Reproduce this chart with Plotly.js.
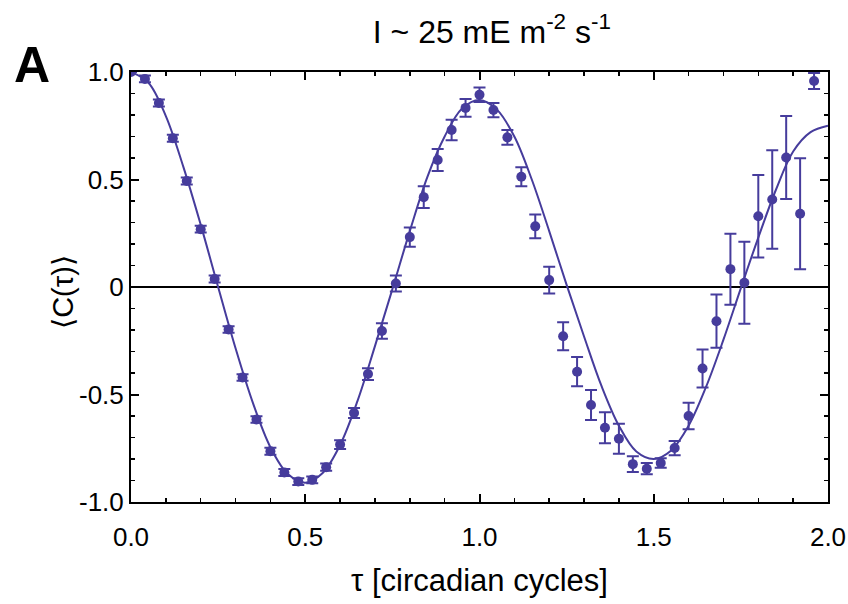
<!DOCTYPE html>
<html>
<head>
<meta charset="utf-8">
<script src="https://cdn.plot.ly/plotly-3.0.1.min.js"></script>
<style>
  html, body { margin: 0; padding: 0; background: #fff; }
  #chart { width: 848px; height: 604px; }
</style>
</head>
<body>
<div id="chart"></div>
<script>
// Measured autocorrelation <C(tau)> with error bars
const tau = [0.00, 0.04, 0.08, 0.12, 0.16, 0.20, 0.24, 0.28, 0.32, 0.36, 0.40,
             0.44, 0.48, 0.52, 0.56, 0.60, 0.64, 0.68, 0.72, 0.76, 0.80,
             0.84, 0.88, 0.92, 0.96, 1.00, 1.04, 1.08, 1.12, 1.16, 1.20,
             1.24, 1.28, 1.32, 1.36, 1.40, 1.44, 1.48, 1.52, 1.56, 1.60,
             1.64, 1.68, 1.72, 1.76, 1.80, 1.84, 1.88, 1.92, 1.96];
const corr = [1.000, 0.968, 0.856, 0.692, 0.493, 0.269, 0.037, -0.198, -0.421, -0.616, -0.764,
              -0.863, -0.905, -0.897, -0.838, -0.733, -0.586, -0.405, -0.205, 0.016, 0.232,
              0.418, 0.591, 0.730, 0.833, 0.894, 0.823, 0.696, 0.513, 0.282, 0.032,
              -0.229, -0.394, -0.549, -0.655, -0.706, -0.824, -0.845, -0.819, -0.749, -0.600,
              -0.379, -0.159, 0.083, 0.020, 0.329, 0.407, 0.602, 0.341, 0.958];
const corrErr = [0.000, 0.016, 0.016, 0.016, 0.016, 0.016, 0.016, 0.015, 0.015, 0.015, 0.016,
                 0.016, 0.016, 0.016, 0.017, 0.020, 0.023, 0.027, 0.036, 0.037, 0.045,
                 0.051, 0.051, 0.048, 0.041, 0.034, 0.033, 0.034, 0.044, 0.055, 0.062,
                 0.065, 0.068, 0.070, 0.072, 0.070, 0.037, 0.026, 0.022, 0.033, 0.062,
                 0.088, 0.124, 0.165, 0.191, 0.192, 0.229, 0.193, 0.258, 0.037];

// Fitted curve, sampled
const fitTau = [0.00, 0.05, 0.10, 0.15, 0.20, 0.25, 0.30, 0.35, 0.40, 0.45, 0.50,
                0.55, 0.60, 0.65, 0.70, 0.75, 0.80, 0.85, 0.90, 0.95, 1.00,
                1.05, 1.10, 1.15, 1.20, 1.25, 1.30, 1.35, 1.40, 1.45, 1.50,
                1.55, 1.60, 1.65, 1.70, 1.75, 1.80, 1.85, 1.90, 1.95, 2.00];
const fitCorr = [1.000, 0.950, 0.795, 0.560, 0.290, 0.000, -0.285, -0.540, -0.745, -0.870, -0.910,
                 -0.865, -0.735, -0.530, -0.275, -0.010, 0.260, 0.510, 0.700, 0.830, 0.870,
                 0.825, 0.700, 0.500, 0.260, 0.010, -0.230, -0.460, -0.645, -0.765, -0.800,
                 -0.760, -0.645, -0.465, -0.245, -0.005, 0.230, 0.450, 0.630, 0.720, 0.750];

const xTickVals = [0, 0.5, 1.0, 1.5, 2.0];
const xTickText = ['0.0', '0.5', '1.0', '1.5', '2.0'];
const yTickVals = [-1.0, -0.5, 0, 0.5, 1.0];
const yTickText = ['-1.0', '-0.5', '0', '0.5', '1.0'];

const ink = '#463c9c';
const font = 'Liberation Sans, Arial, sans-serif';

const traces = [
  {
    x: fitTau, y: fitCorr, type: 'scatter', mode: 'lines',
    line: { color: ink, width: 2, shape: 'spline', smoothing: 1 },
    hoverinfo: 'skip'
  },
  {
    x: tau, y: corr, type: 'scatter', mode: 'markers',
    marker: { color: ink, size: 10 },
    error_y: { type: 'data', array: corrErr, visible: true, color: ink, thickness: 2, width: 6 }
  }
];

const axisCommon = {
  showgrid: false,
  showline: true, linecolor: '#000', linewidth: 2,
  mirror: 'ticks',
  ticks: 'inside', ticklen: 8, tickwidth: 2, tickcolor: '#000',
  tickfont: { family: font, size: 26, color: '#000' },
  minor: { ticks: 'inside', ticklen: 4, tickwidth: 1.5, tickcolor: '#000', dtick: 0.1, showgrid: false }
};

const layout = {
  width: 848, height: 604,
  margin: { l: 131, r: 20, t: 72, b: 102 },
  paper_bgcolor: '#fff', plot_bgcolor: '#fff',
  showlegend: false,
  font: { family: font, color: '#000' },
  title: {
    text: 'I ~ 25 mE m<sup>-2</sup> s<sup>-1</sup>',
    font: { family: font, size: 32, color: '#000' },
    x: 0.58, xanchor: 'center', y: 0.948, yanchor: 'middle'
  },
  xaxis: Object.assign({}, axisCommon, {
    range: [0, 2.0],
    tickvals: xTickVals, ticktext: xTickText,
    ticklabelstandoff: 11,
    zeroline: false,
    title: { text: 'τ [circadian cycles]', font: { family: font, size: 31, color: '#000' }, standoff: 18 }
  }),
  yaxis: Object.assign({}, axisCommon, {
    range: [-1.0, 1.0],
    tickvals: yTickVals, ticktext: yTickText,
    zeroline: true, zerolinecolor: '#000', zerolinewidth: 2
  }),
  annotations: [
    {
      text: '<b>A</b>', xref: 'paper', yref: 'paper', x: -0.171, y: 1.016,
      xanchor: 'left', yanchor: 'middle', showarrow: false,
      font: { family: font, size: 50, color: '#000' }
    },
    {
      text: '⟨C(τ)⟩', xref: 'paper', yref: 'paper', x: -0.098, y: 0.488,
      xanchor: 'center', yanchor: 'middle', showarrow: false, textangle: -90,
      font: { family: font, size: 29, color: '#000' }
    }
  ]
};

Plotly.newPlot('chart', traces, layout, { displayModeBar: false, staticPlot: true });
</script>
</body>
</html>
